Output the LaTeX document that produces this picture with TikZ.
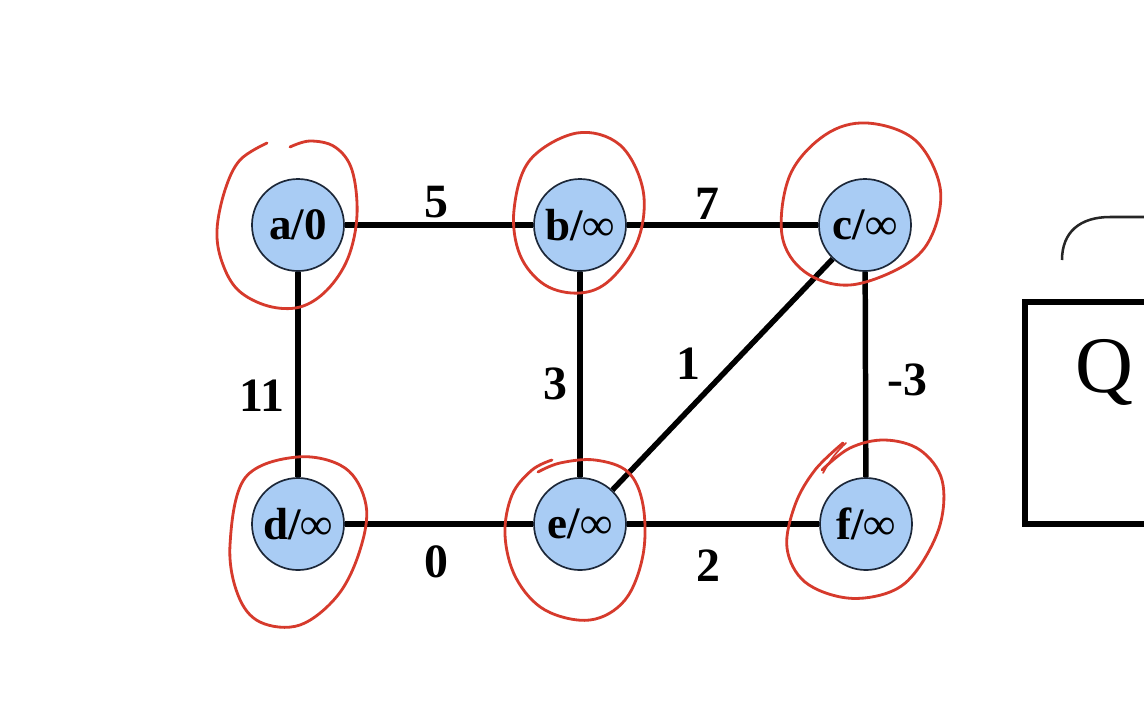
\documentclass[tikz,border=0pt]{standalone}
\usepackage{fontspec}
\setmainfont{Liberation Serif}
\usetikzlibrary{backgrounds}
\definecolor{nodeblue}{HTML}{A9CCF4}
\definecolor{nodeline}{HTML}{1C2738}
\definecolor{loopred}{HTML}{D63A2C}
\begin{document}
\begin{tikzpicture}[x=0.025cm,y=-0.025cm,
  vert/.style={circle, draw=nodeline, line width=1.2pt, fill=nodeblue, minimum size=2.3cm, inner sep=0pt, font=\bfseries\fontsize{32}{32}\selectfont},
  edge/.style={line width=3.9pt, black},
  wlab/.style={font=\bfseries\fontsize{34}{34}\selectfont, inner sep=0pt},
  hand/.style={draw=loopred, line width=2pt, line cap=round}]
\clip (0,0) rectangle (1144,700);

% graph nodes
\node[vert] (a) at (298,225) {a/0};
\node[vert] (b) at (580,225) {b/\char"221E};
\node[vert] (c) at (865,225) {c/\char"221E};
\node[vert] (d) at (298,524) {d/\char"221E};
\node[vert] (e) at (580,524) {e/\char"221E};
\node[vert] (f) at (866,524) {f/\char"221E};

\begin{scope}[on background layer]
\fill[white] (0,0) rectangle (1144,700);
\draw[edge] (a) -- (b);
\draw[edge] (b) -- (c);
\draw[edge] (a) -- (d);
\draw[edge] (b) -- (e);
\draw[edge] (c) -- (e);
\draw[edge] (c) -- (f);
\draw[edge] (d) -- (e);
\draw[edge] (e) -- (f);
\end{scope}

\node[wlab] (w5) at (436,202) {5};
\node[wlab] (w7) at (707,204) {7};
\node[wlab] (w11) at (262,396) {11};
\node[wlab] (w3) at (555,384) {3};
\node[wlab] (w1) at (688,364) {1};
\node[wlab] (wm3) at (907,380) {-3};
\node[wlab] (w0) at (436,562) {0};
\node[wlab] (w2) at (708,566) {2};

% red hand-drawn loops
\draw[hand] plot[smooth, tension=0.6] coordinates {(267,143) (240,160) (225,190) (217,230) (222,262) (238,290) (268,306) (300,307) (327,290) (348,258) (357,215) (352,170) (335,147) (310,141) (290,147)};
\draw[hand] plot[smooth cycle, tension=0.6] coordinates {(577,133) (620,145) (643,190) (638,240) (610,280) (580,293) (545,285) (520,255) (514,210) (530,160)};
\draw[hand] plot[smooth cycle, tension=0.6] coordinates {(867,123) (915,140) (940,187) (932,235) (905,265) (850,285) (805,272) (782,235) (790,175) (825,135)};
\draw[hand] plot[smooth cycle, tension=0.6] coordinates {(297,457) (345,468) (366,505) (360,550) (338,595) (300,625) (260,622) (238,595) (230,545) (245,478)};
\draw[hand] plot[smooth, tension=0.6] coordinates {(552,460) (532,470) (512,495) (505,535) (516,578) (545,610) (590,620) (625,600) (643,555) (643,505) (628,472) (595,460) (560,463) (538,472)};
\draw[hand] plot[smooth, tension=0.6] coordinates {(843,443) (815,470) (795,505) (787,548) (805,582) (847,598) (890,592) (917,570) (940,525) (942,480) (920,450) (885,440) (850,448) (822,470)};
\draw[loopred, line width=1.2pt, line cap=round] (823,473) .. controls (830,460) and (838,450) .. (846,443);

% Q box
\draw[line width=3.8pt] (1200,302) -- (1025,302) -- (1025,524) -- (1200,524);
\node[font=\fontsize{57}{57}\selectfont, inner sep=0pt] (q) at (1104,372) {Q};
\draw[line width=1.8pt, black!85] (1062,260) .. controls (1062,232) and (1080,217) .. (1110,217) -- (1160,217);
\end{tikzpicture}
\end{document}
